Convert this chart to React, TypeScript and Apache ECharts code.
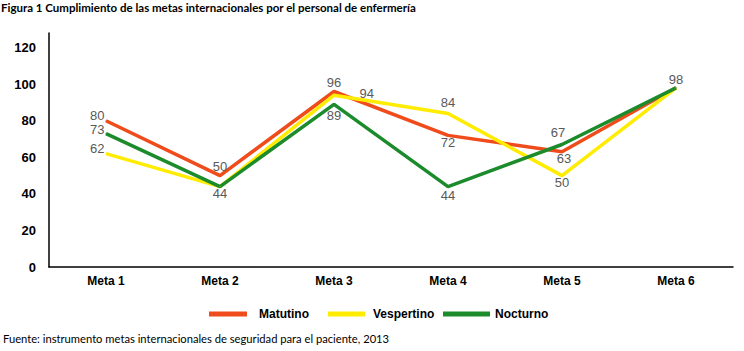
import React, { useEffect, useRef } from "react";
import * as echarts from "echarts";

const categories = ["Meta 1", "Meta 2", "Meta 3", "Meta 4", "Meta 5", "Meta 6"];
const matutino = [80, 50, 96, 72, 63, 98];
const vespertino = [62, 44, 94, 84, 50, 98];
const nocturno = [73, 44, 89, 44, 67, 98];
const yTicks = [0, 20, 40, 60, 80, 100, 120];
const seriesNames = ["Matutino", "Vespertino", "Nocturno"];

const titleText = "Figura 1 Cumplimiento de las metas internacionales por el personal de enfermería";
const sourceText = "Fuente: instrumento metas internacionales de seguridad para el paciente, 2013";

type LabelSpec = { show: boolean; position?: string; offset?: number[] } | null;

const matLabels: LabelSpec[] = [
  { show: true, position: "left", offset: [2, -5] },
  { show: true, position: "top", offset: [0, 1] },
  { show: true, position: "top", offset: [0, 1] },
  { show: true, position: "bottom", offset: [0, -3] },
  { show: true, position: "bottom", offset: [2, -3] },
  null,
];
const vesLabels: LabelSpec[] = [
  { show: true, position: "left", offset: [2, -5] },
  null,
  { show: true, position: "right", offset: [22, -2] },
  { show: true, position: "top", offset: [0, -1] },
  { show: true, position: "bottom", offset: [0, -3] },
  null,
];
const nocLabels: LabelSpec[] = [
  { show: true, position: "left", offset: [2, -4] },
  { show: true, position: "bottom", offset: [0, -3] },
  { show: true, position: "bottom", offset: [0, 1] },
  { show: true, position: "bottom", offset: [0, -1] },
  { show: true, position: "top", offset: [-4, -2] },
  { show: true, position: "top", offset: [0, 2] },
];

function buildData(vals: number[], labels: LabelSpec[]) {
  return vals.map((v, i) => {
    const l = labels[i];
    return {
      value: v,
      label: l ? { show: true, position: l.position, offset: l.offset || [0, 0] } : { show: false },
    };
  });
}

export default function App() {
  const ref = useRef<HTMLDivElement>(null);
  useEffect(() => {
    if (!ref.current) return;
    const chart = echarts.init(ref.current, undefined, { renderer: "svg" });
    const labelStyle = {
      color: "#595959",
      fontFamily: "Liberation Sans, Arial, sans-serif",
      fontSize: 13,
      distance: 3,
    };
    const mk = (name: string, vals: number[], labels: LabelSpec[], color: string) => ({
      name,
      type: "line",
      data: buildData(vals, labels),
      symbol: "circle",
      symbolSize: 1,
      itemStyle: { color },
      lineStyle: { color, width: 3.5 },
      label: { ...labelStyle },
      emphasis: { disabled: true },
    });
    const legendText = {
      fontFamily: "Liberation Sans, Arial, sans-serif",
      fontWeight: "bold",
      fontSize: 12,
      color: "#000",
    };
    const legendPos = [
      { left: 204, width: 38, pad: 7 },
      { left: 323, width: 37, pad: 3 },
      { left: 438, width: 47, pad: 0 },
    ];
    chart.setOption({
      animation: false,
      backgroundColor: "#ffffff",
      graphic: [
        {
          type: "text",
          left: 1,
          top: 1,
          style: {
            text: titleText,
            font: "bold 11.5px Lato, sans-serif",
            fill: "#000",
          },
        },
        {
          type: "text",
          left: 3,
          top: 333,
          style: {
            text: sourceText,
            font: "11.2px Lato, sans-serif",
            fill: "#000",
          },
        },
      ],
      legend: seriesNames.map((n, i) => ({
        left: legendPos[i].left,
        top: 303,
        itemWidth: legendPos[i].width,
        itemHeight: 5,
        icon: "rect",
        textStyle: { ...legendText, padding: [0, 0, 0, legendPos[i].pad] },
        data: [n],
      })),
      grid: { left: 49, right: 11, top: 33, bottom: 84 },
      xAxis: {
        type: "category",
        data: categories,
        boundaryGap: true,
        axisLine: { lineStyle: { color: "#000", width: 1.5 } },
        axisTick: { show: false },
        axisLabel: {
          color: "#000",
          fontWeight: "bold",
          fontSize: 12,
          fontFamily: "Liberation Sans, Arial, sans-serif",
          margin: 8,
        },
      },
      yAxis: {
        type: "value",
        min: 0,
        max: 128,
        interval: 20,
        splitLine: { show: false },
        axisLine: { show: true, lineStyle: { color: "#000", width: 1.5 } },
        axisTick: { show: false },
        axisLabel: {
          color: "#000",
          fontWeight: "bold",
          fontSize: 13,
          fontFamily: "Liberation Sans, Arial, sans-serif",
          margin: 13,
          formatter: (v: number) => (yTicks.includes(v) ? String(v) : ""),
        },
      },
      series: [
        mk("Matutino", matutino, matLabels, "#EF4B1B"),
        mk("Vespertino", vespertino, vesLabels, "#FFEC00"),
        mk("Nocturno", nocturno, nocLabels, "#1C8B2C"),
      ],
    });
    return () => chart.dispose();
  }, []);
  return (
    <div
      ref={ref}
      style={{ position: "fixed", left: 0, top: 0, width: 744, height: 351, background: "#fff" }}
    />
  );
}
